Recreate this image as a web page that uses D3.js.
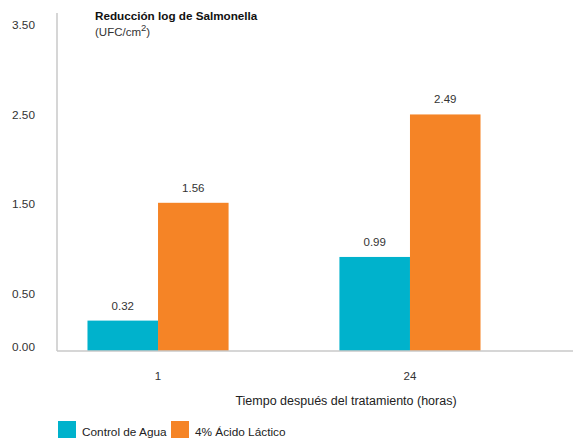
<!DOCTYPE html>
<html>
<head>
<meta charset="utf-8">
<script src="https://cdn.jsdelivr.net/npm/d3@7"></script>
<style>
  body { margin: 0; background: #fff; }
  svg { display: block; font-family: "Liberation Sans", Arial, sans-serif; }
</style>
</head>
<body>
<div id="graph"></div>
<script>
// data
var categories = ['1', '24']
var seriesNames = ['Control de Agua', '4% Ácido Láctico']
var aguaValues = [0.32, 0.99]
var acidoValues = [1.56, 2.49]
var yTicks = [0, 0.5, 1.5, 2.5, 3.5]

var width = 573, height = 438
var colors = ['#00b2cc', '#f58426']

var svg = d3.select('#graph').append('svg')
    .attr('width', width)
    .attr('height', height)

var x0 = d3.scaleBand()
    .domain(categories)
    .range([57, 511])
    .paddingInner(0.44)
    .paddingOuter(0.121)

var x1 = d3.scaleBand()
    .domain(seriesNames)
    .range([0, x0.bandwidth()])

var y = d3.scaleLinear()
    .domain([0, 3.6])
    .range([351, 9])

// tick labels in the original sit a bit off the bar scale
var yLabel = d3.scaleLinear()
    .domain([0.5, 3.5])
    .range([298, 29])

var rows = categories.map(function(c, i){
  return { cat: c, vals: [aguaValues[i], acidoValues[i]] }
})

// bars
var groups = svg.selectAll('g.grp')
    .data(rows)
  .enter().append('g')
    .attr('class', 'grp')
    .attr('transform', function(d){ return 'translate(' + x0(d.cat) + ',0)' })

groups.selectAll('rect')
    .data(function(d){ return d.vals.map(function(v, j){ return { name: seriesNames[j], v: v, j: j } }) })
  .enter().append('rect')
    .attr('x', function(d){ return x1(d.name) })
    .attr('width', x1.bandwidth())
    .attr('y', function(d){ return y(d.v) })
    .attr('height', function(d){ return y(0) - y(d.v) })
    .attr('fill', function(d){ return colors[d.j] })

groups.selectAll('text.val')
    .data(function(d){ return d.vals.map(function(v, j){ return { name: seriesNames[j], v: v } }) })
  .enter().append('text')
    .attr('class', 'val')
    .attr('x', function(d){ return x1(d.name) + x1.bandwidth() / 2 })
    .attr('y', function(d){ return y(d.v) - 11 })
    .attr('text-anchor', 'middle')
    .attr('font-size', 11.5)
    .attr('fill', '#333')
    .text(function(d){ return d.v.toFixed(2) })

// axes lines
svg.append('line')
    .attr('x1', 57).attr('x2', 57)
    .attr('y1', 13).attr('y2', y(0))
    .attr('stroke', '#c8c8c8').attr('stroke-width', 1.5)
svg.append('line')
    .attr('x1', 57).attr('x2', width)
    .attr('y1', y(0)).attr('y2', y(0))
    .attr('stroke', '#c8c8c8').attr('stroke-width', 1.5)

// y tick labels
svg.selectAll('text.ytick')
    .data(yTicks)
  .enter().append('text')
    .attr('class', 'ytick')
    .attr('x', 12)
    .attr('y', function(d){ return d === 0 ? y(0) : yLabel(d) })
    .attr('font-size', 11.8)
    .attr('fill', '#333')
    .text(function(d){ return d.toFixed(2) })

// x category labels
svg.selectAll('text.xtick')
    .data(categories)
  .enter().append('text')
    .attr('class', 'xtick')
    .attr('x', function(d){ return x0(d) + x0.bandwidth() / 2 })
    .attr('y', 380)
    .attr('text-anchor', 'middle')
    .attr('font-size', 11.5)
    .attr('fill', '#333')
    .text(function(d){ return d })

// titles
svg.append('text')
    .attr('x', 95).attr('y', 20)
    .attr('font-size', 11.7).attr('font-weight', 'bold').attr('fill', '#111')
    .text('Reducción log de Salmonella')
var sub = svg.append('text')
    .attr('x', 95).attr('y', 36)
    .attr('font-size', 11.5).attr('fill', '#333')
sub.append('tspan').text('(UFC/cm')
sub.append('tspan').attr('dy', -5).attr('font-size', 9.5).text('2')
sub.append('tspan').attr('dy', 5).text(')')

svg.append('text')
    .attr('x', 346).attr('y', 405)
    .attr('text-anchor', 'middle')
    .attr('font-size', 12.5).attr('fill', '#222')
    .text('Tiempo después del tratamiento (horas)')

// legend
var legX = [58, 171]
var leg = svg.selectAll('g.leg')
    .data(seriesNames)
  .enter().append('g')
    .attr('class', 'leg')
    .attr('transform', function(d, i){ return 'translate(' + legX[i] + ',421)' })
leg.append('rect')
    .attr('width', 18).attr('height', 17)
    .attr('fill', function(d, i){ return colors[i] })
leg.append('text')
    .attr('x', 24).attr('y', 15)
    .attr('font-size', 11.8).attr('fill', '#222')
    .text(function(d){ return d })
</script>
</body>
</html>
